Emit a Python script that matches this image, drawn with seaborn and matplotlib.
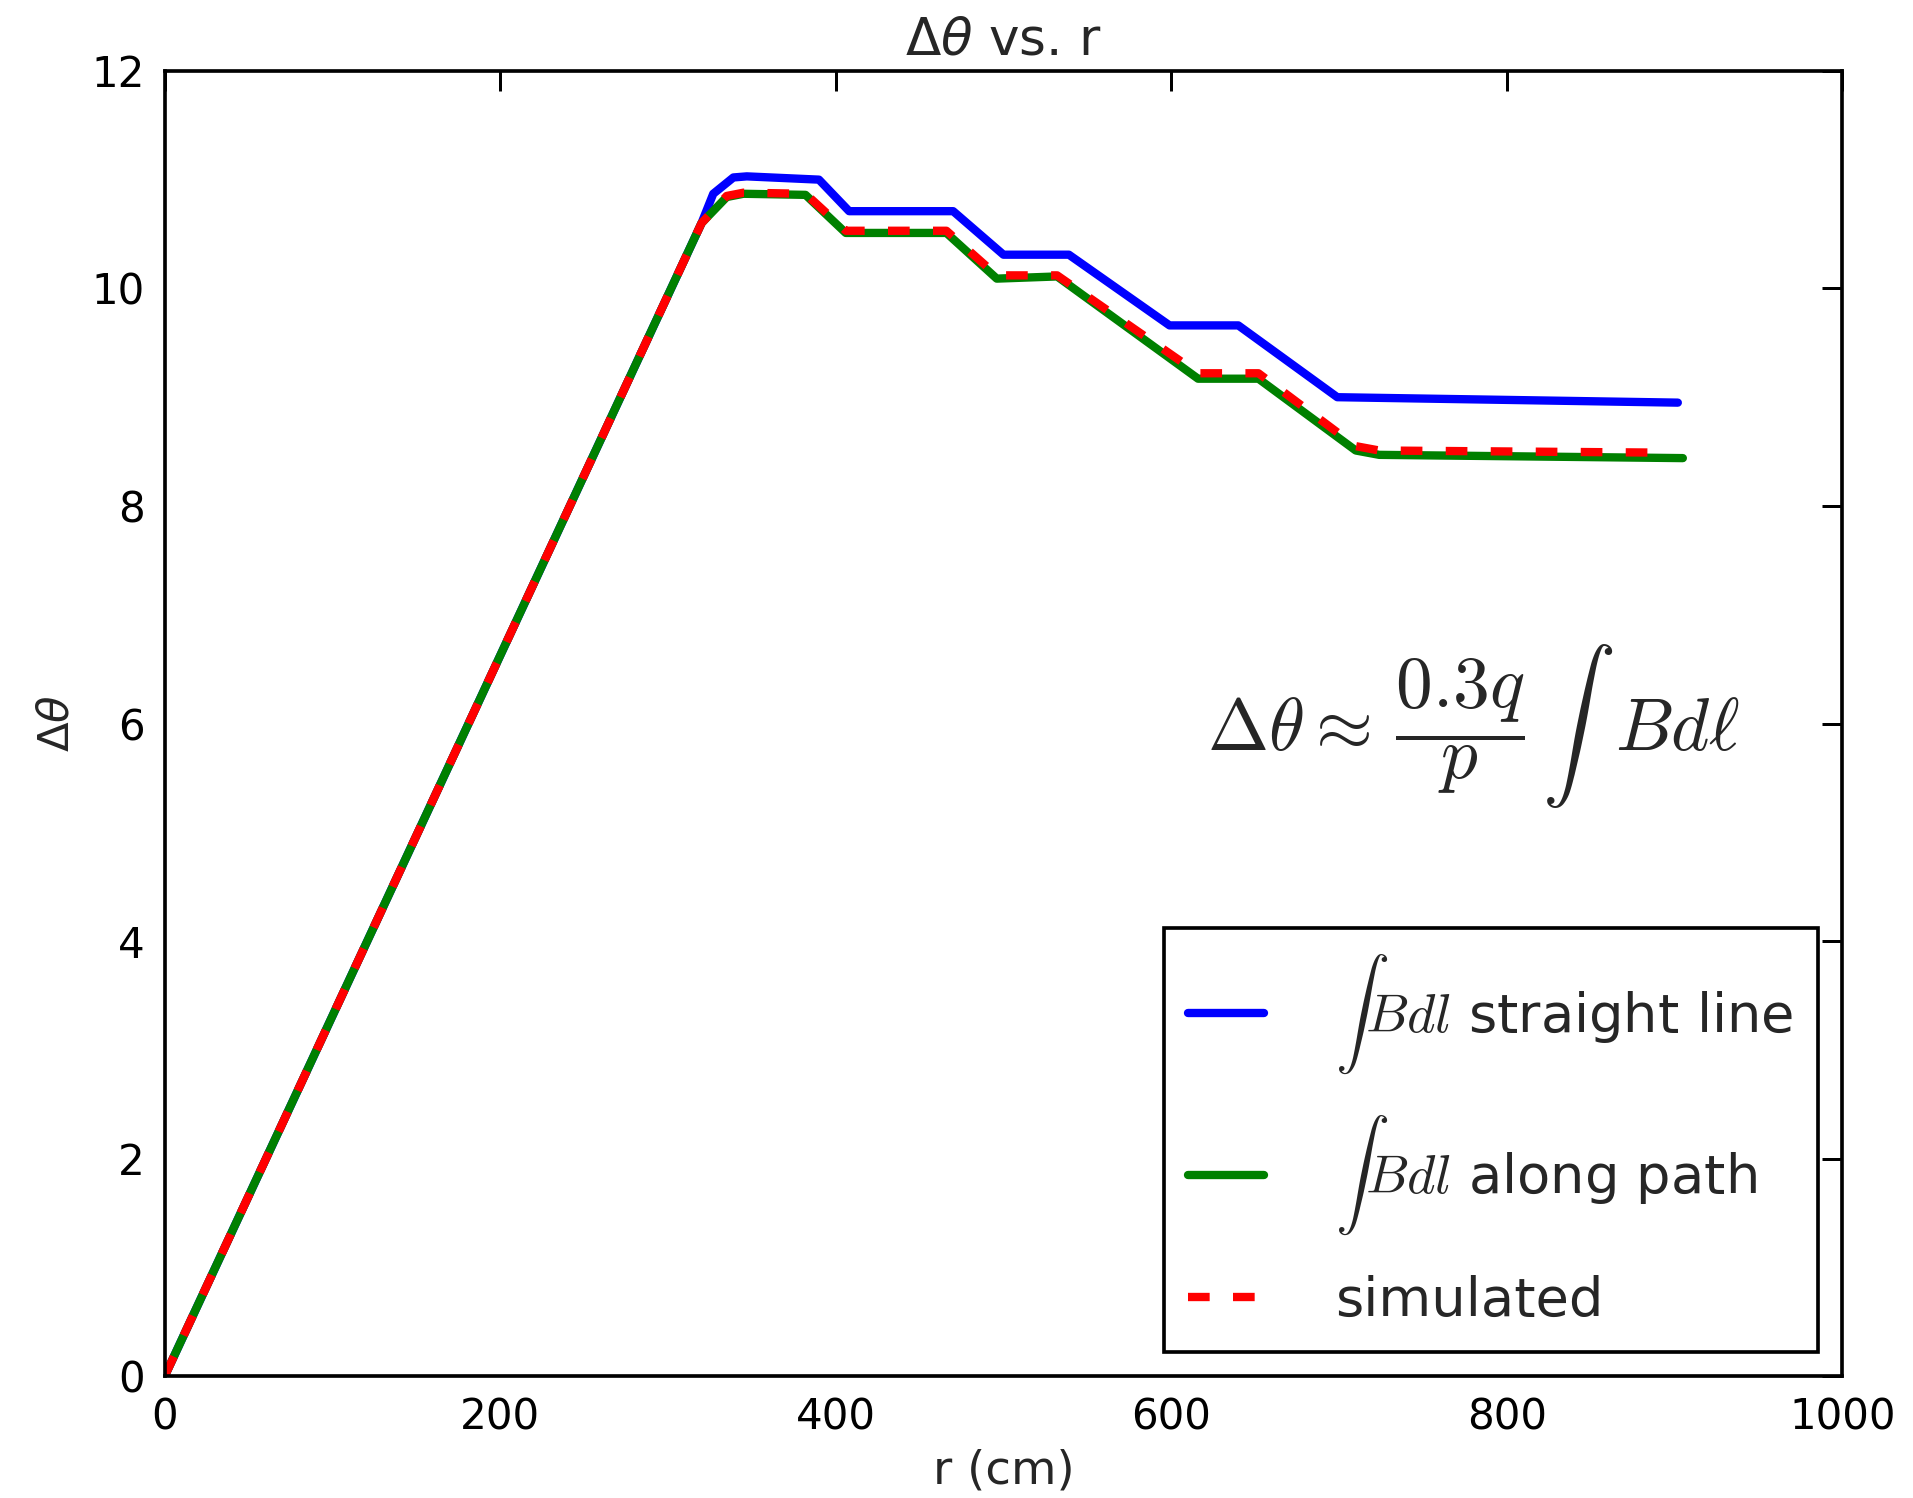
import numpy as np
import pandas as pd
import matplotlib
matplotlib.use("Agg")
import matplotlib.pyplot as plt
import seaborn as sns

# ---- data ----
r_straight = [0, 320, 327, 339, 347, 390, 408, 470, 500, 539, 599, 640, 699, 902]
dtheta_straight = [0, 10.6, 10.87, 11.02, 11.03, 11.00, 10.71, 10.71, 10.31, 10.31, 9.66, 9.66, 9.00, 8.95]

r_path = [0, 320, 335, 345, 382, 406, 466, 496, 532, 616, 652, 710, 724, 905]
dtheta_path = [0, 10.6, 10.84, 10.87, 10.86, 10.51, 10.51, 10.09, 10.11, 9.17, 9.17, 8.51, 8.47, 8.44]

r_sim = [0, 320, 335, 345, 382, 406, 466, 496, 532, 616, 652, 710, 724, 897]
dtheta_sim = [0, 10.6, 10.85, 10.88, 10.87, 10.53, 10.53, 10.12, 10.12, 9.22, 9.22, 8.55, 8.51, 8.49]

labels = [r'$\int Bdl$ straight line', r'$\int Bdl$ along path', 'simulated']
x_ticks = [0, 200, 400, 600, 800, 1000]
y_ticks = [0, 2, 4, 6, 8, 10, 12]

sns.set_style("white")
plt.rcParams['font.family'] = ['DejaVu Sans']
plt.rcParams['xtick.direction'] = 'in'
plt.rcParams['ytick.direction'] = 'in'

DPI = 240
fig = plt.figure(figsize=(1913 / DPI, 1498 / DPI), dpi=DPI)
ax = fig.add_axes([0.0861, 0.0813, 0.963 - 0.0861, 0.9527 - 0.0813])

df_s = pd.DataFrame({'r': r_straight, 'd': dtheta_straight})
df_p = pd.DataFrame({'r': r_path, 'd': dtheta_path})
df_m = pd.DataFrame({'r': r_sim, 'd': dtheta_sim})

LW = 2.5
sns.lineplot(data=df_s, x='r', y='d', color='#0000ff', lw=LW, ax=ax,
             label=labels[0], sort=False, estimator=None)
sns.lineplot(data=df_p, x='r', y='d', color='#008000', lw=LW, ax=ax,
             label=labels[1], sort=False, estimator=None)
sns.lineplot(data=df_m, x='r', y='d', color='#ff0000', lw=LW, ax=ax,
             label=labels[2], sort=False, estimator=None, linestyle=(0, (2.6, 2.8)))

ax.set_xlim(0, 1000)
ax.set_ylim(0, 12)
ax.set_xticks(x_ticks)
ax.set_yticks(y_ticks)
ax.tick_params(axis='both', which='both', direction='in', top=True, right=True,
               length=6, width=0.9, labelsize=12.6, pad=6, colors='black')
for sp in ax.spines.values():
    sp.set_visible(True)
    sp.set_color('black')
    sp.set_linewidth(1.1)

ax.set_title(r'$\Delta\theta$ vs. r', fontsize=15.5, pad=5)
ax.set_xlabel('r (cm)', fontsize=14, labelpad=3)
ax.set_ylabel(r'$\Delta\theta$', fontsize=13, labelpad=4)

eq = ax.text(0.780, 0.498, r'$\Delta\theta \approx\, \dfrac{0.3q}{p}\,\int\ \,Bd\ell$',
             transform=ax.transAxes, ha='center', va='center', fontsize=22)
eq.set_math_fontfamily('cm')

leg = ax.legend(loc='lower right', fontsize=16.3, frameon=True, fancybox=False,
                edgecolor='black', framealpha=1, handlelength=1.4, handletextpad=1.3,
                borderaxespad=0.45, borderpad=0.45, labelspacing=0.7)
leg.get_frame().set_linewidth(1.1)
for t in leg.get_texts():
    t.set_math_fontfamily('cm')

fig.savefig('out.png', dpi=DPI)
